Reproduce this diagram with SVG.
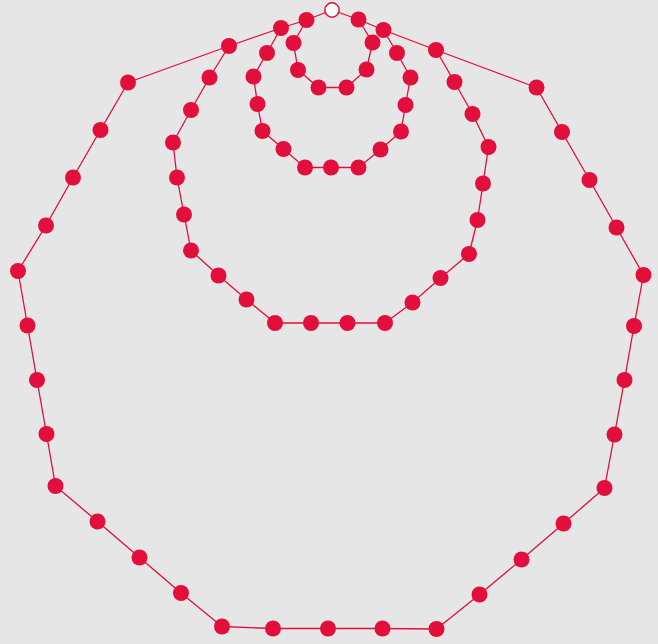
<svg xmlns="http://www.w3.org/2000/svg" width="658" height="644" viewBox="0 0 658 644">
<style>
.bg{fill:#e6e6e6}
.e{fill:none;stroke:#e20e3c;stroke-width:1.3;stroke-linejoin:round}
.n{fill:#e20e3c}
.w{fill:#ffffff;stroke:#e20e3c;stroke-width:1.5}
</style>
<rect class="bg" x="0" y="0" width="658" height="644"/>
<g id="connectors">
<path class="e" d="M229,46 L281,28 L306.5,20 L332,10 L358.5,19.5 L383.5,30 L436,50"/>
<path class="e" d="M306.5,20 L293.5,43 L298,70 L318.5,87.5 L346.5,87.5 L366.5,69.5 L372.5,42.5 L358.5,19.5"/>
<path class="e" d="M281,28 L267,53 L253.5,76.5 L257.5,104 L262.5,131 L283.5,149 L305,167.5 L331,167.5 L358.5,167.5 L380.5,149.5 L401,131.5 L405.5,105 L410.5,77.5 L397,53 L383.5,30"/>
<path class="e" d="M229,46 L209.5,77.5 L191,110 L173,142.5 L177,177.5 L184,214.5 L191,250.5 L218.5,275.5 L246.5,299.5 L275,323 L311,323 L347.5,323 L385,323 L412.5,302.5 L440.5,278 L469,254 L477.5,220 L483,183.5 L488.5,147 L472.5,114 L454.5,82 L436,50"/>
<path class="e" d="M229,46 L128,82.5 L100.5,130 L73,177.5 L46,225.5 L18,271 L27.5,325.5 L37,380 L46.5,434 L55.5,486 L97.5,521.5 L139.5,557.5 L181,593 L222,626.5 L273,628.5 L328,628.5 L382.5,628.5 L436.5,629 L479.5,594.5 L521.5,559.5 L563.5,523.5 L604.5,488 L614.5,434.5 L624.5,380 L634,326 L643.5,275 L616.5,227.5 L589.5,180 L562,132 L536.5,87.5 L436,50"/>
</g>
<g id="nodes">
<g id="w"><circle class="w" cx="332" cy="10" r="7.2"/></g>
<g id="t1"><circle class="n" cx="229" cy="46" r="8"/></g>
<g id="t2"><circle class="n" cx="281" cy="28" r="8"/></g>
<g id="t3"><circle class="n" cx="306.5" cy="20" r="8"/></g>
<g id="t4"><circle class="n" cx="358.5" cy="19.5" r="8"/></g>
<g id="t5"><circle class="n" cx="383.5" cy="30" r="8"/></g>
<g id="t6"><circle class="n" cx="436" cy="50" r="8"/></g>
<g id="a1"><circle class="n" cx="293.5" cy="43" r="8"/></g>
<g id="a2"><circle class="n" cx="298" cy="70" r="8"/></g>
<g id="a3"><circle class="n" cx="318.5" cy="87.5" r="8"/></g>
<g id="a4"><circle class="n" cx="346.5" cy="87.5" r="8"/></g>
<g id="a5"><circle class="n" cx="366.5" cy="69.5" r="8"/></g>
<g id="a6"><circle class="n" cx="372.5" cy="42.5" r="8"/></g>
<g id="b1"><circle class="n" cx="267" cy="53" r="8"/></g>
<g id="b2"><circle class="n" cx="253.5" cy="76.5" r="8"/></g>
<g id="b3"><circle class="n" cx="257.5" cy="104" r="8"/></g>
<g id="b4"><circle class="n" cx="262.5" cy="131" r="8"/></g>
<g id="b5"><circle class="n" cx="283.5" cy="149" r="8"/></g>
<g id="b6"><circle class="n" cx="305" cy="167.5" r="8"/></g>
<g id="b7"><circle class="n" cx="331" cy="167.5" r="8"/></g>
<g id="b8"><circle class="n" cx="358.5" cy="167.5" r="8"/></g>
<g id="b9"><circle class="n" cx="380.5" cy="149.5" r="8"/></g>
<g id="b10"><circle class="n" cx="401" cy="131.5" r="8"/></g>
<g id="b11"><circle class="n" cx="405.5" cy="105" r="8"/></g>
<g id="b12"><circle class="n" cx="410.5" cy="77.5" r="8"/></g>
<g id="b13"><circle class="n" cx="397" cy="53" r="8"/></g>
<g id="c1"><circle class="n" cx="209.5" cy="77.5" r="8"/></g>
<g id="c2"><circle class="n" cx="191" cy="110" r="8"/></g>
<g id="c3"><circle class="n" cx="173" cy="142.5" r="8"/></g>
<g id="c4"><circle class="n" cx="177" cy="177.5" r="8"/></g>
<g id="c5"><circle class="n" cx="184" cy="214.5" r="8"/></g>
<g id="c6"><circle class="n" cx="191" cy="250.5" r="8"/></g>
<g id="c7"><circle class="n" cx="218.5" cy="275.5" r="8"/></g>
<g id="c8"><circle class="n" cx="246.5" cy="299.5" r="8"/></g>
<g id="c9"><circle class="n" cx="275" cy="323" r="8"/></g>
<g id="c10"><circle class="n" cx="311" cy="323" r="8"/></g>
<g id="c11"><circle class="n" cx="347.5" cy="323" r="8"/></g>
<g id="c12"><circle class="n" cx="385" cy="323" r="8"/></g>
<g id="c13"><circle class="n" cx="412.5" cy="302.5" r="8"/></g>
<g id="c14"><circle class="n" cx="440.5" cy="278" r="8"/></g>
<g id="c15"><circle class="n" cx="469" cy="254" r="8"/></g>
<g id="c16"><circle class="n" cx="477.5" cy="220" r="8"/></g>
<g id="c17"><circle class="n" cx="483" cy="183.5" r="8"/></g>
<g id="c18"><circle class="n" cx="488.5" cy="147" r="8"/></g>
<g id="c19"><circle class="n" cx="472.5" cy="114" r="8"/></g>
<g id="c20"><circle class="n" cx="454.5" cy="82" r="8"/></g>
<g id="d1"><circle class="n" cx="128" cy="82.5" r="8"/></g>
<g id="d2"><circle class="n" cx="100.5" cy="130" r="8"/></g>
<g id="d3"><circle class="n" cx="73" cy="177.5" r="8"/></g>
<g id="d4"><circle class="n" cx="46" cy="225.5" r="8"/></g>
<g id="d5"><circle class="n" cx="18" cy="271" r="8"/></g>
<g id="d6"><circle class="n" cx="27.5" cy="325.5" r="8"/></g>
<g id="d7"><circle class="n" cx="37" cy="380" r="8"/></g>
<g id="d8"><circle class="n" cx="46.5" cy="434" r="8"/></g>
<g id="d9"><circle class="n" cx="55.5" cy="486" r="8"/></g>
<g id="d10"><circle class="n" cx="97.5" cy="521.5" r="8"/></g>
<g id="d11"><circle class="n" cx="139.5" cy="557.5" r="8"/></g>
<g id="d12"><circle class="n" cx="181" cy="593" r="8"/></g>
<g id="d13"><circle class="n" cx="222" cy="626.5" r="8"/></g>
<g id="d14"><circle class="n" cx="273" cy="628.5" r="8"/></g>
<g id="d15"><circle class="n" cx="328" cy="628.5" r="8"/></g>
<g id="d16"><circle class="n" cx="382.5" cy="628.5" r="8"/></g>
<g id="d17"><circle class="n" cx="436.5" cy="629" r="8"/></g>
<g id="d18"><circle class="n" cx="479.5" cy="594.5" r="8"/></g>
<g id="d19"><circle class="n" cx="521.5" cy="559.5" r="8"/></g>
<g id="d20"><circle class="n" cx="563.5" cy="523.5" r="8"/></g>
<g id="d21"><circle class="n" cx="604.5" cy="488" r="8"/></g>
<g id="d22"><circle class="n" cx="614.5" cy="434.5" r="8"/></g>
<g id="d23"><circle class="n" cx="624.5" cy="380" r="8"/></g>
<g id="d24"><circle class="n" cx="634" cy="326" r="8"/></g>
<g id="d25"><circle class="n" cx="643.5" cy="275" r="8"/></g>
<g id="d26"><circle class="n" cx="616.5" cy="227.5" r="8"/></g>
<g id="d27"><circle class="n" cx="589.5" cy="180" r="8"/></g>
<g id="d28"><circle class="n" cx="562" cy="132" r="8"/></g>
<g id="d29"><circle class="n" cx="536.5" cy="87.5" r="8"/></g>
</g>
</svg>
